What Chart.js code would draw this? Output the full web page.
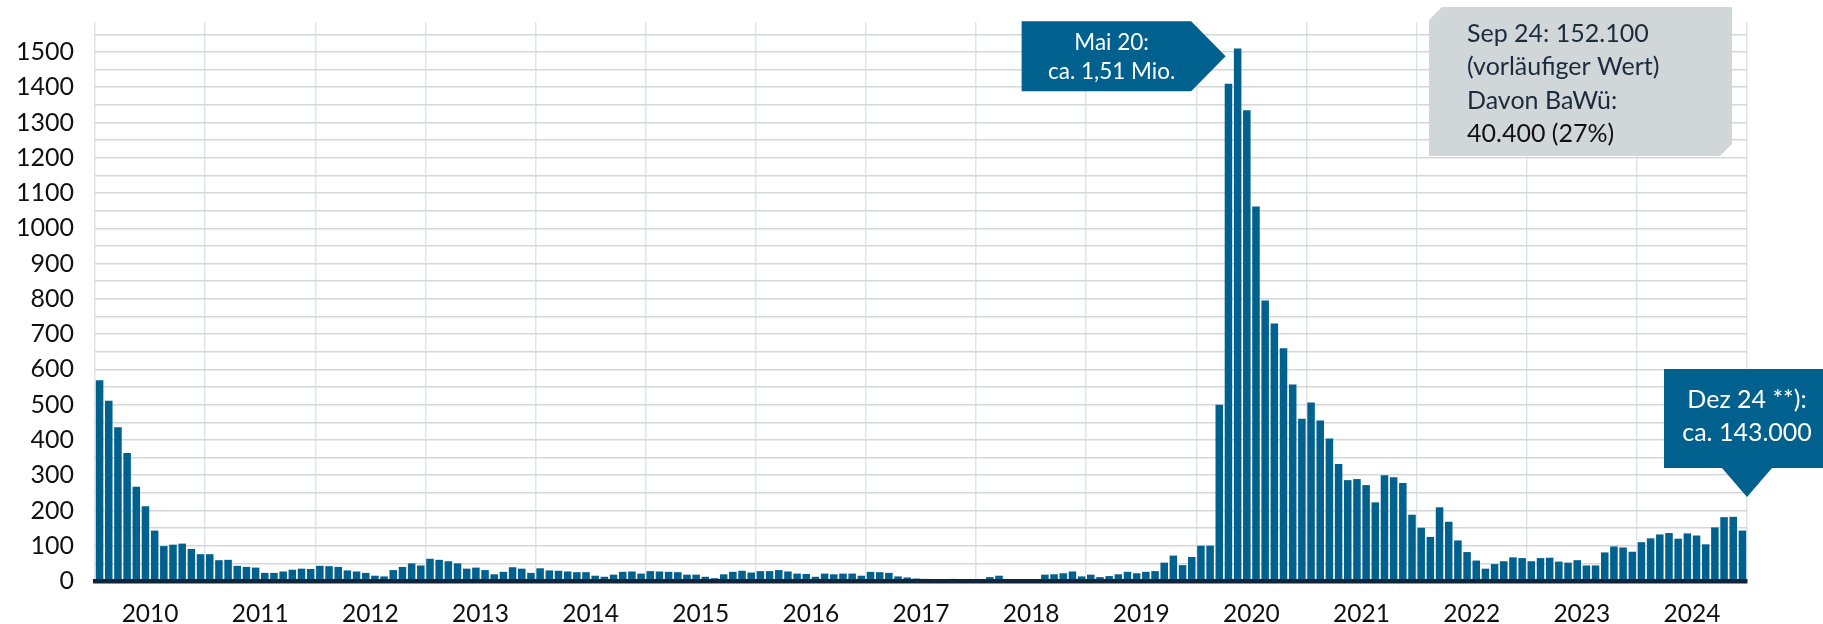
<!DOCTYPE html>
<html>
<head>
<meta charset="utf-8">
<script src="https://cdn.jsdelivr.net/npm/chart.js@4/dist/chart.umd.min.js"></script>
<style>
  body { margin: 0; background: #fff; }
  #wrap { width: 1823px; height: 624px; }
</style>
</head>
<body>
<div id="wrap"><canvas id="myChart"></canvas></div>
<script>
const years = ['2010','2011','2012','2013','2014','2015','2016','2017','2018','2019','2020','2021','2022','2023','2024']
const months = ['Jan','Feb','Mär','Apr','Mai','Jun','Jul','Aug','Sep','Okt','Nov','Dez']

// Kurzarbeiter in Tsd., monatlich
const values = [
  569, 511, 436, 363, 267, 212, 143, 99, 103, 106, 91, 76,   // 2010
  76, 59, 60, 43, 40, 38, 23, 23, 27, 32, 35, 34,            // 2011
  43, 42, 40, 30, 27, 23, 15, 13, 31, 40, 50, 44,            // 2012
  63, 60, 56, 50, 35, 38, 31, 19, 26, 39, 35, 23,            // 2013
  36, 30, 29, 27, 25, 25, 15, 12, 18, 26, 27, 21,            // 2014
  28, 27, 26, 25, 18, 18, 12, 8, 19, 26, 29, 24,             // 2015
  28, 28, 31, 27, 21, 20, 12, 21, 19, 21, 21, 15,            // 2016
  26, 25, 23, 13, 10, 7, 6, 4, 4, 6, 4, 4,                   // 2017
  3, 11, 15, 3, 3, 3, 3, 18, 19, 22, 27, 13,                 // 2018
  18, 11, 14, 19, 26, 22, 26, 28, 52, 72, 45, 68,            // 2019
  100, 100, 500, 1410, 1510, 1335, 1062, 795, 730, 660, 557, 460, // 2020
  506, 455, 404, 332, 286, 289, 272, 223, 300, 294, 278, 188, // 2021
  151, 125, 209, 168, 115, 82, 58, 35, 48, 56, 67, 65,       // 2022
  56, 65, 66, 55, 52, 59, 44, 44, 81, 98, 95, 83,            // 2023
  110, 121, 132, 136, 120, 135, 129, 104, 152, 181, 182, 143 // 2024
]

const labels = []
years.forEach(y => months.forEach(m => labels.push(m + ' ' + y.slice(2))))

const peakLabel = ['Mai 20:', 'ca. 1,51 Mio.']
const lastLabel = ['Dez 24 **):', 'ca. 143.000']
const infoLabel = ['Sep 24: 152.100', '(vorläufiger Wert)', 'Davon BaWü:', '40.400 (27%)']

const blue = '#00608e'

const callouts = {
  id: 'callouts',
  afterDraw(chart) {
    const ctx = chart.ctx
    const x = chart.scales.x
    const y = chart.scales.y
    const area = chart.chartArea
    ctx.save()

    // Mai 20 box with arrow
    let tx = x.getPixelForValue(labels.indexOf('Mai 20')) - 12
    let ty = y.getPixelForValue(1488)
    ctx.fillStyle = blue
    ctx.beginPath()
    ctx.moveTo(tx - 204, ty - 35)
    ctx.lineTo(tx - 34.5, ty - 35)
    ctx.lineTo(tx, ty)
    ctx.lineTo(tx - 34.5, ty + 35)
    ctx.lineTo(tx - 204, ty + 35)
    ctx.closePath()
    ctx.fill()
    ctx.fillStyle = '#fff'
    ctx.font = '22.5px Lato'
    ctx.textAlign = 'center'
    ctx.textBaseline = 'middle'
    ctx.fillText(peakLabel[0], tx - 114, ty - 13)
    ctx.fillText(peakLabel[1], tx - 114, ty + 16)

    // grey info box
    const gl = area.right - 318, gr = area.right - 15, gt = area.top - 15, gb = area.top + 134
    ctx.fillStyle = '#d1d6d9'
    ctx.beginPath()
    ctx.moveTo(gl + 13, gt)
    ctx.lineTo(gr, gt)
    ctx.lineTo(gr, gb - 12)
    ctx.lineTo(gr - 12, gb)
    ctx.lineTo(gl, gb)
    ctx.lineTo(gl, gt + 13)
    ctx.closePath()
    ctx.fill()
    ctx.font = '25px Lato'
    ctx.textAlign = 'left'
    infoLabel.forEach((t, i) => {
      ctx.fillStyle = i === 3 ? '#111111' : '#1c2b3c'
      ctx.fillText(t, gl + 38, gt + 27 + i * 33.3)
    })

    // Dez 24 box with pointer
    tx = area.right
    ty = y.getPixelForValue(238)
    ctx.fillStyle = blue
    ctx.beginPath()
    ctx.moveTo(tx - 83, ty - 128)
    ctx.lineTo(chart.width, ty - 128)
    ctx.lineTo(chart.width, ty - 29)
    ctx.lineTo(tx + 25, ty - 29)
    ctx.lineTo(tx, ty)
    ctx.lineTo(tx - 25, ty - 29)
    ctx.lineTo(tx - 83, ty - 29)
    ctx.closePath()
    ctx.fill()
    ctx.fillStyle = '#fff'
    ctx.font = '25px Lato'
    ctx.textAlign = 'center'
    ctx.fillText(lastLabel[0], tx, ty - 97)
    ctx.fillText(lastLabel[1], tx, ty - 64)

    ctx.restore()
  }
}

const ctx = document.getElementById('myChart')

new Chart(ctx, {
  type: 'bar',
  data: {
    labels: labels,
    datasets: [{
      data: values,
      backgroundColor: blue,
      borderWidth: 0,
      barPercentage: 0.82,
      categoryPercentage: 1
    }]
  },
  options: {
    responsive: true,
    maintainAspectRatio: false,
    devicePixelRatio: 1,
    animation: false,
    layout: { padding: { top: 22, right: 76, left: 0, bottom: 0 } },
    plugins: { legend: { display: false }, tooltip: { enabled: false } },
    scales: {
      x: {
        afterFit: s => {
          s.height = 43
          s.paddingLeft = 0
          s.paddingRight = 0
        },
        grid: {
          offset: true,
          drawTicks: false,
          lineWidth: 1.5,
          color: c => (c.index === undefined || c.index % 12 === 0) ? '#e2e5e8' : 'rgba(0,0,0,0)'
        },
        border: { display: true, color: '#10243a', width: 4.5, z: 1 },
        ticks: {
          autoSkip: false,
          maxRotation: 0,
          minRotation: 0,
          padding: 18,
          labelOffset: 4.6,
          color: '#111',
          font: { family: 'Lato', size: 24.5 },
          callback: (v, i) => i % 12 === 5 ? years[Math.floor(i / 12)] : ''
        }
      },
      y: {
        min: 0,
        max: 1585,
        afterFit: s => {
          s.width = 95
          s.paddingTop = 0
          s.paddingBottom = 0
        },
        grid: { drawTicks: false, lineWidth: 1.5, color: '#d3d7da' },
        border: { display: false },
        ticks: {
          stepSize: 50,
          includeBounds: false,
          autoSkip: false,
          padding: 21,
          color: '#111',
          font: { family: 'Lato', size: 25 },
          callback: v => v % 100 === 0 ? v : ''
        }
      }
    }
  },
  plugins: [callouts]
})
</script>
</body>
</html>
